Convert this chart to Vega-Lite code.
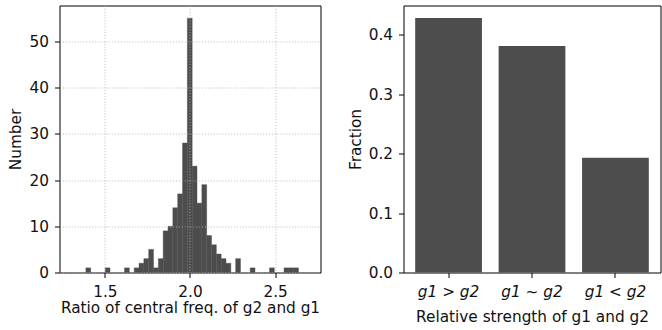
{
  "$schema": "https://vega.github.io/schema/vega-lite/v6.json",
  "background": "white",
  "padding": {"left": 7.5, "top": 4.5, "right": 0, "bottom": 0},
  "spacing": 83,
  "bounds": "flush",
  "config": {
    "font": "DejaVu Sans",
    "view": {"stroke": "#000", "strokeWidth": 1},
    "axis": {
      "domain": false,
      "labelFont": "DejaVu Sans",
      "labelFontSize": 15.3,
      "titleFont": "DejaVu Sans",
      "titleFontSize": 15.3,
      "titleFontWeight": "normal",
      "labelColor": "#111",
      "titleColor": "#111",
      "tickColor": "#000",
      "tickSize": 5,
      "tickWidth": 1,
      "labelPadding": 6
    },
    "axisX": {"titlePadding": 1, "labelPadding": 7},
    "axisY": {"titlePadding": 6}
  },
  "hconcat": [
    {
      "width": 261,
      "height": 267,
      "data": {
        "values": [
          {"x0": 1.3882, "x1": 1.4166, "n": 1},
          {"x0": 1.5018, "x1": 1.5301, "n": 1},
          {"x0": 1.6153, "x1": 1.6437, "n": 1},
          {"x0": 1.6721, "x1": 1.7005, "n": 1},
          {"x0": 1.7005, "x1": 1.7289, "n": 2},
          {"x0": 1.7289, "x1": 1.7573, "n": 3},
          {"x0": 1.7573, "x1": 1.7857, "n": 5},
          {"x0": 1.7857, "x1": 1.8141, "n": 1},
          {"x0": 1.8141, "x1": 1.8424, "n": 3},
          {"x0": 1.8424, "x1": 1.8708, "n": 9},
          {"x0": 1.8708, "x1": 1.8992, "n": 10},
          {"x0": 1.8992, "x1": 1.9276, "n": 14},
          {"x0": 1.9276, "x1": 1.956, "n": 17},
          {"x0": 1.956, "x1": 1.9844, "n": 28},
          {"x0": 1.9844, "x1": 2.0128, "n": 55},
          {"x0": 2.0128, "x1": 2.0412, "n": 23},
          {"x0": 2.0412, "x1": 2.0696, "n": 15},
          {"x0": 2.0696, "x1": 2.098, "n": 19},
          {"x0": 2.098, "x1": 2.1264, "n": 8},
          {"x0": 2.1264, "x1": 2.1548, "n": 6},
          {"x0": 2.1548, "x1": 2.1831, "n": 4},
          {"x0": 2.1831, "x1": 2.2115, "n": 3},
          {"x0": 2.2115, "x1": 2.2399, "n": 2},
          {"x0": 2.2683, "x1": 2.2967, "n": 3},
          {"x0": 2.3535, "x1": 2.3819, "n": 1},
          {"x0": 2.467, "x1": 2.4954, "n": 1},
          {"x0": 2.5522, "x1": 2.5806, "n": 1},
          {"x0": 2.5806, "x1": 2.609, "n": 1},
          {"x0": 2.609, "x1": 2.6374, "n": 1}
        ]
      },
      "mark": {"type": "rect", "color": "#4d4d4d", "stroke": "#4d4d4d", "strokeWidth": 0.4},
      "encoding": {
        "x": {
          "field": "x0",
          "type": "quantitative",
          "scale": {"domain": [1.2333, 2.7667], "nice": false, "zero": false},
          "axis": {
            "values": [1.5, 2.0, 2.5],
            "format": ".1f",
            "grid": true,
            "gridColor": "#b0b0b0",
            "gridDash": [1.1, 1.8],
            "gridWidth": 0.8,
            "zindex": 1,
            "title": "Ratio of central freq. of g2 and g1"
          }
        },
        "x2": {"field": "x1"},
        "y": {
          "field": "n",
          "type": "quantitative",
          "scale": {"domain": [0, 57.75], "nice": false},
          "axis": {
            "values": [0, 10, 20, 30, 40, 50],
            "grid": true,
            "gridColor": "#b0b0b0",
            "gridDash": [1.1, 1.8],
            "gridWidth": 0.8,
            "zindex": 1,
            "title": "Number"
          }
        },
        "y2": {"datum": 0}
      }
    },
    {
      "width": 257,
      "height": 267,
      "data": {
        "values": [
          {"c": "g1 > g2", "f": 0.428},
          {"c": "g1 ∼ g2", "f": 0.381},
          {"c": "g1 < g2", "f": 0.193}
        ]
      },
      "mark": {"type": "bar", "color": "#4d4d4d"},
      "encoding": {
        "x": {
          "field": "c",
          "type": "nominal",
          "sort": null,
          "scale": {"paddingInner": 0.2, "paddingOuter": 0.14},
          "axis": {
            "labelAngle": 0,
            "labelFontStyle": "italic",
            "titlePadding": 10,
            "title": "Relative strength of g1 and g2"
          }
        },
        "y": {
          "field": "f",
          "type": "quantitative",
          "scale": {"domain": [0, 0.449], "nice": false},
          "axis": {
            "values": [0, 0.1, 0.2, 0.3, 0.4],
            "format": ".1f",
            "grid": false,
            "titlePadding": 4.5,
            "title": "Fraction"
          }
        }
      }
    }
  ]
}
